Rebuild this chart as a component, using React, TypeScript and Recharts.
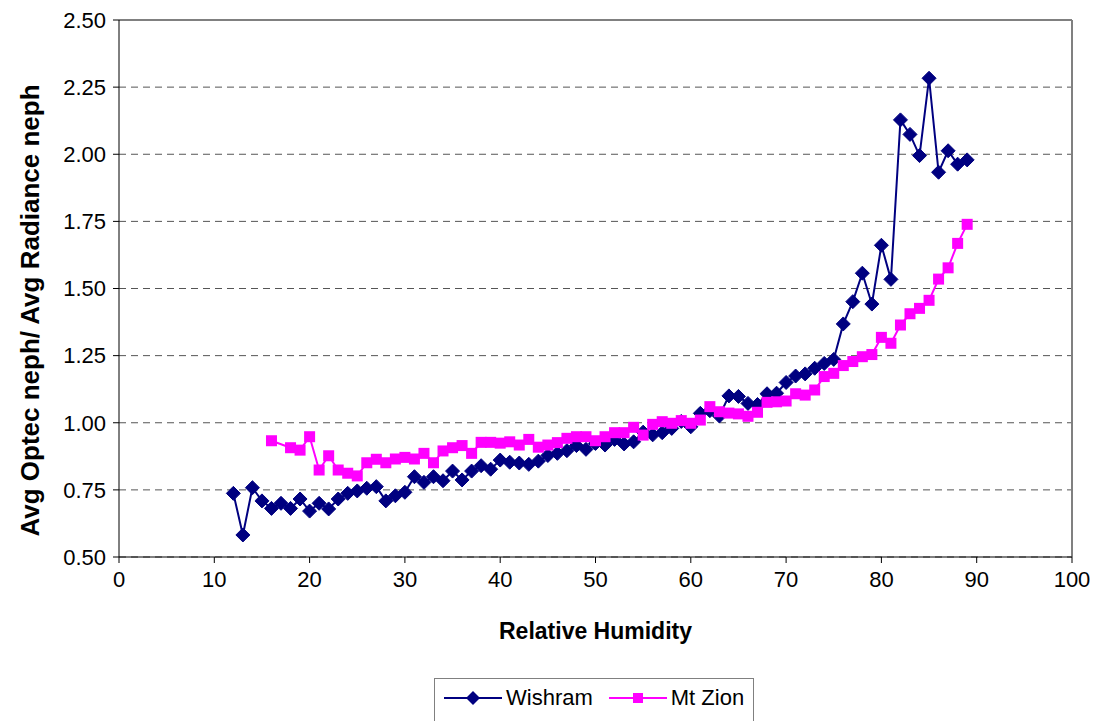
import React from "react";
import {
  CartesianGrid,
  Label,
  Line,
  LineChart,
  ReferenceLine,
  XAxis,
  YAxis,
} from "recharts";

const FONT = "'Liberation Sans', Arial, sans-serif";
const WISHRAM_COLOR = "#000080";
const ZION_COLOR = "#FF00FF";

// Relative humidity bins and ratios
const wishramRH = [
  12, 13, 14, 15, 16, 17, 18, 19, 20, 21, 22, 23, 24, 25, 26, 27, 28, 29, 30,
  31, 32, 33, 34, 35, 36, 37, 38, 39, 40, 41, 42, 43, 44, 45, 46, 47, 48, 49,
  50, 51, 52, 53, 54, 55, 56, 57, 58, 59, 60, 61, 62, 63, 64, 65, 66, 67, 68,
  69, 70, 71, 72, 73, 74, 75, 76, 77, 78, 79, 80, 81, 82, 83, 84, 85, 86, 87,
  88, 89,
];
const wishramRatio = [
  0.737, 0.582, 0.758, 0.709, 0.681, 0.7, 0.681, 0.716, 0.671, 0.7, 0.679,
  0.716, 0.737, 0.746, 0.756, 0.762, 0.709, 0.728, 0.741, 0.799, 0.778, 0.799,
  0.784, 0.82, 0.787, 0.82, 0.84, 0.827, 0.861, 0.853, 0.85, 0.845, 0.857,
  0.878, 0.886, 0.896, 0.915, 0.901, 0.923, 0.917, 0.938, 0.921, 0.929, 0.965,
  0.955, 0.963, 0.979, 1.005, 0.985, 1.035, 1.045, 1.025, 1.1, 1.098, 1.072,
  1.068, 1.108, 1.11, 1.15, 1.174, 1.182, 1.203, 1.221, 1.236, 1.368, 1.451,
  1.557, 1.442, 1.661, 1.534, 2.128, 2.074, 1.995, 2.283, 1.933, 2.013, 1.963,
  1.979,
];

const zionRH = [
  16, 18, 19, 20, 21, 22, 23, 24, 25, 26, 27, 28, 29, 30, 31, 32, 33, 34, 35,
  36, 37, 38, 39, 40, 41, 42, 43, 44, 45, 46, 47, 48, 49, 50, 51, 52, 53, 54,
  55, 56, 57, 58, 59, 60, 61, 62, 63, 64, 65, 66, 67, 68, 69, 70, 71, 72, 73,
  74, 75, 76, 77, 78, 79, 80, 81, 82, 83, 84, 85, 86, 87, 88, 89,
];
const zionRatio = [
  0.933, 0.907, 0.898, 0.948, 0.824, 0.877, 0.824, 0.812, 0.802, 0.851, 0.864,
  0.851, 0.865, 0.871, 0.865, 0.886, 0.851, 0.895, 0.907, 0.915, 0.886, 0.927,
  0.927, 0.924, 0.929, 0.917, 0.938, 0.909, 0.917, 0.926, 0.942, 0.948, 0.948,
  0.933, 0.948, 0.963, 0.963, 0.983, 0.954, 0.994, 1.004, 0.998, 1.008, 0.998,
  1.01, 1.06, 1.041, 1.036, 1.033, 1.024, 1.039, 1.076, 1.078, 1.081, 1.108,
  1.103, 1.122, 1.172, 1.184, 1.213, 1.228, 1.246, 1.254, 1.318, 1.296, 1.364,
  1.406, 1.426, 1.456, 1.535, 1.577, 1.668, 1.739,
];

const xTicks = [0, 10, 20, 30, 40, 50, 60, 70, 80, 90, 100];
const yTicks = [0.5, 0.75, 1.0, 1.25, 1.5, 1.75, 2.0, 2.25, 2.5];

interface Row {
  rh: number;
  wishram: number | null;
  zion: number | null;
}

function buildRows(): Row[] {
  const byRh = new Map<number, Row>();
  const get = (rh: number) => {
    if (!byRh.has(rh)) byRh.set(rh, { rh, wishram: null, zion: null });
    return byRh.get(rh)!;
  };
  wishramRH.forEach((rh, i) => (get(rh).wishram = wishramRatio[i]));
  zionRH.forEach((rh, i) => (get(rh).zion = zionRatio[i]));
  return Array.from(byRh.values()).sort((a, b) => a.rh - b.rh);
}

const Diamond = (props: any) => {
  const { cx, cy, value } = props;
  if (cx == null || cy == null || value == null) return null;
  const r = 7;
  return (
    <polygon
      points={`${cx},${cy - r} ${cx + r},${cy} ${cx},${cy + r} ${cx - r},${cy}`}
      fill={WISHRAM_COLOR}
      stroke={WISHRAM_COLOR}
      strokeWidth={1}
    />
  );
};

const Square = (props: any) => {
  const { cx, cy, value } = props;
  if (cx == null || cy == null || value == null) return null;
  const s = 11;
  return (
    <rect x={cx - s / 2} y={cy - s / 2} width={s} height={s} fill={ZION_COLOR} />
  );
};

function LegendBox() {
  const item = (name: string, color: string, marker: React.ReactNode, gap: number) => (
    <div style={{ display: "flex", alignItems: "center", marginRight: gap }}>
      <svg width={58} height={20}>
        <line x1={0} y1={10} x2={58} y2={10} stroke={color} strokeWidth={2} />
        {marker}
      </svg>
      <span style={{ marginLeft: 4 }}>{name}</span>
    </div>
  );
  return (
    <div
      style={{
        position: "absolute",
        left: 434,
        top: 678,
        width: 320,
        height: 50,
        border: "1px solid #808080",
        boxSizing: "border-box",
        display: "flex",
        alignItems: "flex-start",
        paddingTop: 6,
        paddingLeft: 9,
        fontFamily: FONT,
        fontSize: 22,
        color: "#000",
        background: "#fff",
      }}
    >
      {item(
        "Wishram",
        WISHRAM_COLOR,
        <polygon points="29,3 36,10 29,17 22,10" fill={WISHRAM_COLOR} />,
        16,
      )}
      {item(
        "Mt Zion",
        ZION_COLOR,
        <rect x={24} y={5} width={10} height={10} fill={ZION_COLOR} />,
        0,
      )}
    </div>
  );
}

export default function App() {
  const rows = buildRows();
  return (
    <div
      style={{
        position: "absolute",
        left: 0,
        top: 0,
        width: 1097,
        height: 721,
        overflow: "hidden",
        background: "#fff",
      }}
    >
      <LineChart
        width={1097}
        height={721}
        data={rows}
        margin={{ top: 20, right: 25, bottom: 0, left: 0 }}
      >
        <CartesianGrid
          horizontal
          vertical={false}
          stroke="#555"
          strokeDasharray="7 5"
          strokeWidth={1}
        />
        <XAxis
          dataKey="rh"
          type="number"
          domain={[0, 100]}
          ticks={xTicks}
          height={164}
          tickSize={6}
          tickMargin={8}
          stroke="#000"
          tick={{ fontSize: 22, fill: "#000", fontFamily: FONT }}
        >
          <Label
            value="Relative Humidity"
            position="insideTop"
            offset={66}
            style={{ fontSize: 23, fontWeight: "bold", fill: "#000", fontFamily: FONT }}
          />
        </XAxis>
        <YAxis
          type="number"
          domain={[0.5, 2.5]}
          ticks={yTicks}
          width={119}
          tickSize={6}
          tickMargin={7}
          stroke="#000"
          tickFormatter={(v: number) => v.toFixed(2)}
          tick={{ fontSize: 22, fill: "#000", fontFamily: FONT }}
        >
          <Label
            content={({ viewBox }: any) => {
              const cx = viewBox.x + 30;
              const cy = viewBox.y + viewBox.height / 2 + 22;
              return (
                <text
                  x={cx}
                  y={cy}
                  transform={`rotate(-90, ${cx}, ${cy})`}
                  textAnchor="middle"
                  dominantBaseline="central"
                  style={{ fontSize: 26, fontWeight: "bold", fill: "#000", fontFamily: FONT }}
                >
                  Avg Optec neph/ Avg Radiance neph
                </text>
              );
            }}
          />
        </YAxis>
        {/* grey plot-area frame on top and right */}
        <ReferenceLine y={2.5} stroke="#808080" strokeWidth={2} />
        <ReferenceLine x={100} stroke="#808080" strokeWidth={2} />
        <Line
          dataKey="wishram"
          name="Wishram"
          stroke={WISHRAM_COLOR}
          strokeWidth={2}
          dot={<Diamond />}
          activeDot={false}
          connectNulls
          isAnimationActive={false}
        />
        <Line
          dataKey="zion"
          name="Mt Zion"
          stroke={ZION_COLOR}
          strokeWidth={2}
          dot={<Square />}
          activeDot={false}
          connectNulls
          isAnimationActive={false}
        />
      </LineChart>
      <LegendBox />
    </div>
  );
}
